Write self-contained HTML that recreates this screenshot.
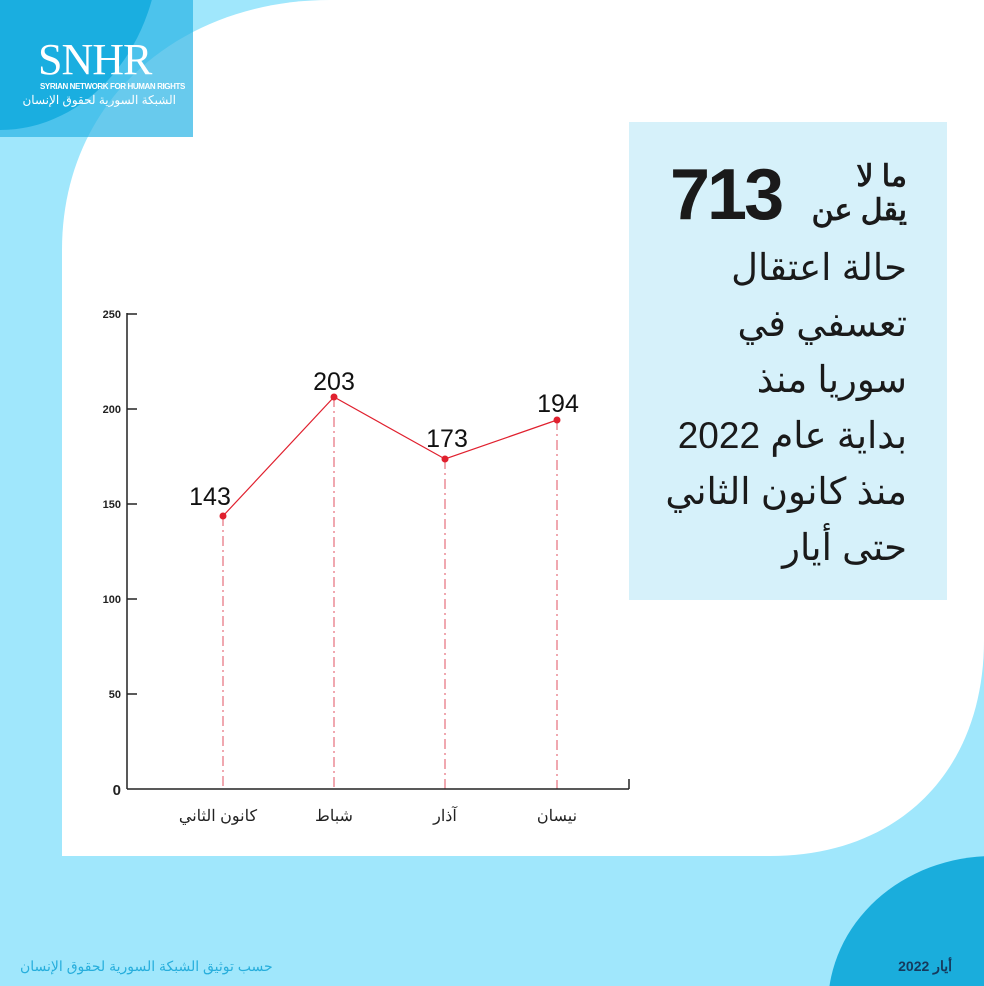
<!DOCTYPE html>
<html style="overflow:hidden;height:986px"><head><meta charset="utf-8"><style>
html,body{margin:0;padding:0;width:984px;height:986px;overflow:hidden}
#wrap{width:984px;height:986px;overflow:hidden;background:#a0e7fc;position:relative;font-family:"Liberation Sans","Noto Sans CJK SC",sans-serif}
.abs{position:absolute}
</style></head><body><div id="wrap">
<svg class="abs" style="left:0;top:0" width="984" height="986">
<path d="M62,856 L62,250 C62,100 180,0 330,0 L984,0 L984,640 C984,770 900,856 770,856 Z" fill="#fff"/>
<rect x="0" y="0" width="193" height="137" fill="rgba(40,180,230,0.7)"/>
<ellipse cx="0" cy="-60" rx="160" ry="190" fill="#1aaee0"/>
<ellipse cx="993" cy="1006" rx="165" ry="150" fill="#1aaddc"/>
</svg>
<div class="abs" style="left:38px;top:38px;color:#fff;font-family:'Liberation Serif',serif;font-size:44px;letter-spacing:-1px;line-height:44px">SNHR</div>
<div class="abs" style="left:40px;top:82px;color:#fff;font-size:8px;line-height:10px;font-weight:bold;letter-spacing:-0.4px;white-space:nowrap">SYRIAN NETWORK FOR HUMAN RIGHTS</div>
<div class="abs" style="left:40px;top:93px;color:#fff;font-size:12px;line-height:14px;width:136px;text-align:center;white-space:nowrap" dir="rtl">الشبكة السورية لحقوق الإنسان</div>

<div class="abs" style="left:629px;top:122px;width:318px;height:478px;background:#d6f1fa"></div>
<div class="abs" style="left:670px;top:155px;font-size:72px;font-weight:bold;color:#1a1a1a;line-height:80px;letter-spacing:-3px">713</div>
<div class="abs" dir="rtl" style="left:790px;width:117px;top:160px;font-size:30px;font-weight:bold;color:#1a1a1a;line-height:34px;text-align:right;white-space:nowrap">ما لا<br>يقل عن</div>
<div class="abs" dir="rtl" style="left:640px;width:267px;top:240px;font-size:37px;color:#1a1a1a;line-height:56px;text-align:right;white-space:nowrap">حالة اعتقال<br>تعسفي في<br>سوريا منذ<br>بداية عام 2022<br>منذ كانون الثاني<br>حتى أيار</div>

<svg class="abs" style="left:0;top:0" width="984" height="986">
<g stroke="#d9263a" stroke-width="1" stroke-dasharray="10,4,2,4" opacity="0.8">
<line x1="223" y1="516" x2="223" y2="789"/><line x1="334" y1="397" x2="334" y2="789"/>
<line x1="445" y1="459" x2="445" y2="789"/><line x1="557" y1="420" x2="557" y2="789"/></g>
<g stroke="#222" stroke-width="1.5" fill="none">
<line x1="127" y1="313" x2="127" y2="789"/><line x1="127" y1="789" x2="629" y2="789"/><line x1="629" y1="779" x2="629" y2="789"/>
<line x1="127" y1="314" x2="137" y2="314"/><line x1="127" y1="409" x2="137" y2="409"/><line x1="127" y1="504" x2="137" y2="504"/><line x1="127" y1="599" x2="137" y2="599"/><line x1="127" y1="694" x2="137" y2="694"/></g>
<g font-family="Liberation Sans" font-size="11" font-weight="bold" fill="#222" text-anchor="end">
<text x="121" y="318">250</text><text x="121" y="413">200</text><text x="121" y="508">150</text><text x="121" y="603">100</text><text x="121" y="698">50</text><text x="121" y="795" font-size="15">0</text></g>
<polyline points="223,516 334,397 445,459 557,420" fill="none" stroke="#e0202e" stroke-width="1.2"/>
<g fill="#e0202e"><circle cx="223" cy="516" r="3.5"/><circle cx="334" cy="397" r="3.5"/><circle cx="445" cy="459" r="3.5"/><circle cx="557" cy="420" r="3.5"/></g>
<g font-family="Liberation Sans" font-size="25" fill="#111" text-anchor="middle">
<text x="210" y="505">143</text><text x="334" y="390">203</text><text x="447" y="447">173</text><text x="558" y="412">194</text></g>
<g font-family="Liberation Sans, Noto Sans CJK SC, sans-serif" font-size="16" fill="#222" text-anchor="middle">
<text x="218" y="821" direction="rtl">كانون الثاني</text><text x="334" y="821" direction="rtl">شباط</text><text x="445" y="821" direction="rtl">آذار</text><text x="557" y="821" direction="rtl">نيسان</text></g>
<text x="20" y="971" font-family="Liberation Sans, Noto Sans CJK SC, sans-serif" font-size="14" fill="#27aedc" direction="rtl" text-anchor="end">حسب توثيق الشبكة السورية لحقوق الإنسان</text>
<text x="952" y="971" font-family="Liberation Sans, Noto Sans CJK SC, sans-serif" font-size="14" font-weight="bold" fill="#16395c" direction="rtl" text-anchor="start">أيار 2022</text>
</svg>
</div></body></html>
